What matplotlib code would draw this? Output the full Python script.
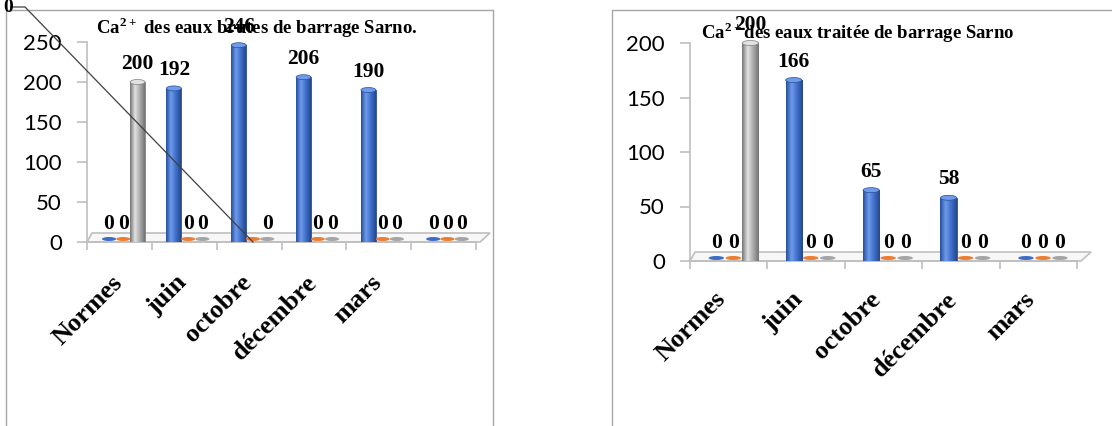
import numpy as np
import matplotlib
matplotlib.use('Agg')
import matplotlib.pyplot as plt
from matplotlib.patches import Ellipse, Polygon
from matplotlib.lines import Line2D
from matplotlib.colors import LinearSegmentedColormap

plt.rcParams['mathtext.fontset'] = 'custom'
plt.rcParams['mathtext.rm'] = 'Liberation Serif'
plt.rcParams['mathtext.bf'] = 'Liberation Serif:bold'

# --- données ---
mois_brute = ['Normes', 'juin', 'octobre', 'décembre', 'mars', '']
serie1_brute = [0, 192, 246, 206, 190, 0]
serie2_brute = [0, 0, 0, 0, 0, 0]
serie3_brute = [200, 0, 0, 0, 0, 0]

mois_traitee = ['Normes', 'juin', 'octobre', 'décembre', 'mars']
serie1_traitee = [0, 166, 65, 58, 0]
serie2_traitee = [0, 0, 0, 0, 0]
serie3_traitee = [200, 0, 0, 0, 0]

yticks_brute = [0, 50, 100, 150, 200, 250]
yticks_traitee = [0, 50, 100, 150, 200]

titre_brute = r'Ca$^{\mathbf{2+}}$ des eaux brutes de barrage Sarno.'
titre_traitee = r'Ca$^{\mathbf{2+}}$des eaux traitée de barrage Sarno'

# étiquette déplacée (série orange, octobre) sur le graphique des eaux brutes
etiquette_deplacee = (2, 1)

couleurs = ['#3F6DC6', '#ED7D31', '#A5A5A5']
bords = ['#2A4F98', '#C55A11', '#7F7F7F']
degrades = [['#27509E', '#6E9BEA', '#3F6ECB', '#26498C'],
            ['#C55A11', '#F8B183', '#ED7D31', '#B4520F'],
            ['#767676', '#E2E2E2', '#ABABAB', '#747474']]
decal = [0.34, 0.56, 0.78]

W, H = 1112, 426
fig = plt.figure(figsize=(W / 100, H / 100), dpi=100)
serif = {'family': 'Liberation Serif', 'weight': 'bold'}


def axes_px(x0, x1, ytop, ybot):
    return fig.add_axes([x0 / W, 1 - ybot / H, (x1 - x0) / W, (ybot - ytop) / H])


def dessine(ax, mois, series, yticks, ymax, bw, lab_dx, lab_dy, wpx, hpx, skip=None):
    n = len(mois)
    k = ymax / hpx  # unités de données par pixel
    for s, vals in enumerate(series):
        x = np.arange(n) + decal[s]
        cmap = LinearSegmentedColormap.from_list('c%d' % s, degrades[s])
        for i, v in enumerate(vals):
            xi = x[i]
            if v > 0:
                b = ax.bar(xi, v, width=bw, color=couleurs[s], edgecolor=bords[s],
                           linewidth=0.6, zorder=3)[0]
                im = ax.imshow(np.linspace(0, 1, 50).reshape(1, -1), cmap=cmap,
                               extent=(xi - bw / 2, xi + bw / 2, 0, v),
                               aspect='auto', zorder=3.2)
                im.set_clip_path(b)
                ax.add_patch(Ellipse((xi, v), bw, 5 * k, facecolor=degrades[s][1],
                                     edgecolor=bords[s], lw=0.5, zorder=3.5, clip_on=False))
            ax.add_patch(Ellipse((xi, 3 * k), bw * 0.95, 4 * k, facecolor=couleurs[s],
                                 edgecolor='none', zorder=3.1, clip_on=False))
            if skip == (i, s):
                continue
            ax.annotate(str(v), (xi, v), xytext=(0, 6), textcoords='offset points',
                        ha='center', va='bottom', fontsize=15.5, **serif,
                        annotation_clip=False, zorder=5)
    ax.set_xlim(0, n)
    ax.set_ylim(0, ymax)

    # sol en perspective
    ax.add_patch(Polygon([(0, 0), (1 + 4 / wpx, 0), (1 + 14 / wpx, 9 / hpx), (5 / wpx, 9 / hpx)],
                         closed=True, transform=ax.transAxes, facecolor='#F7F7F7',
                         edgecolor='#BFBFBF', lw=1.2, zorder=2, clip_on=False))

    for sp in ['top', 'right']:
        ax.spines[sp].set_visible(False)
    for sp in ['left', 'bottom']:
        ax.spines[sp].set_color('#BFBFBF')
        ax.spines[sp].set_linewidth(1.2)
    ax.set_yticks(yticks)
    ax.set_yticklabels([str(t) for t in yticks], fontsize=16, family='Lato')
    ax.set_xticks(np.arange(n + 1))
    ax.set_xticklabels([])
    ax.tick_params(axis='y', length=7, width=1.2, color='#BFBFBF', pad=11)
    ax.tick_params(axis='x', length=6, width=1.2, color='#BFBFBF')
    ax.patch.set_alpha(0)

    for i, m in enumerate(mois):
        ax.annotate(m, (i + 0.5, 0), xycoords=('data', 'axes fraction'),
                    xytext=(lab_dx, lab_dy), textcoords='offset points',
                    rotation=45, rotation_mode='anchor', ha='right', va='center',
                    fontsize=19, **serif, annotation_clip=False)


# graphique 1 : eaux brutes
ax1 = axes_px(87, 476, 42, 242)
dessine(ax1, mois_brute, [serie1_brute, serie2_brute, serie3_brute], yticks_brute,
        250, 0.23, -0.5, -26.5, 389, 200, skip=etiquette_deplacee)

# graphique 2 : eaux traitées
ax2 = axes_px(690, 1077, 43, 261)
dessine(ax2, mois_traitee, [serie1_traitee, serie2_traitee, serie3_traitee], yticks_traitee,
        200, 0.21, -5, -25, 387, 218)

fig.text(257 / W, 1 - 28 / H, titre_brute, ha='center', va='center', fontsize=13.5, **serif)
fig.text(858 / W, 1 - 33 / H, titre_traitee, ha='center', va='center', fontsize=13.5, **serif)

# cadres des graphiques
gris = '#A6A6A6'
fig.add_artist(Line2D([6 / W, 6 / W, 493 / W, 493 / W], [0, 1 - 10 / H, 1 - 10 / H, 0],
                      transform=fig.transFigure, color=gris, lw=1))
fig.add_artist(Line2D([612 / W, 612 / W, 1], [0, 1 - 10 / H, 1 - 10 / H],
                      transform=fig.transFigure, color=gris, lw=1))

# étiquette "0" déplacée avec sa ligne de rappel
i, s = etiquette_deplacee
px, py = ax1.transData.transform((i + decal[s], 0))
fig.text(3 / W, 1 - 8 / H, str(serie2_brute[i]), ha='left', va='center', fontsize=14, **serif)
fig.add_artist(Line2D([11 / W, 25 / W, px / W], [1 - 7 / H, 1 - 7 / H, py / H],
                      transform=fig.transFigure, color='#404040', lw=0.9))

fig.savefig('out.png', dpi=100)
